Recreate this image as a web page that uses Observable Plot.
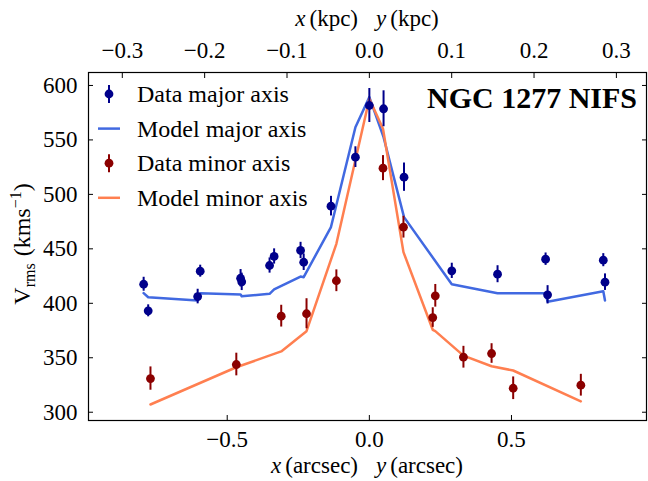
<!DOCTYPE html>
<html><head><meta charset="utf-8">
<script src="https://cdn.jsdelivr.net/npm/d3@7"></script>
<script src="https://cdn.jsdelivr.net/npm/@observablehq/plot@0.6"></script>
<style>
body{margin:0;background:#fff}
#chart{position:relative;width:648px;height:481px}
</style>
</head><body><div id="chart"></div>
<script>
// ---- data (arcsec, km/s) ----
const majorX   = [-0.794,-0.778,-0.604,-0.595,-0.453,-0.449,-0.351,-0.335,-0.242,-0.231,-0.135,-0.049,0.000,0.050,0.122,0.290,0.451,0.620,0.627,0.823,0.829];
const majorV   = [417.5,393.1,406.2,429.5,423.0,419.7,434.7,443.0,448.5,437.7,489.2,534.2,581.6,578.6,515.8,429.8,426.7,440.5,407.8,439.6,419.4];
const majorErr = [6.4,5.5,6.7,5.5,8,8,7,7,7.5,7.6,9,9.5,15.6,16.5,13,7,7.8,5.7,8.4,6,7.6];

const minorX   = [-0.770,-0.468,-0.310,-0.221,-0.116,0.048,0.120,0.223,0.232,0.331,0.430,0.506,0.744];
const minorV   = [330.9,343.8,388.2,390.4,420.7,524.1,469.9,386.9,406.9,350.5,353.9,322.0,324.8];
const minorErr = [10.7,10.4,10,13.8,10,11.5,10,9,10.4,10,9,10.4,10];

const modelMajorX = [-0.794,-0.778,-0.604,-0.595,-0.453,-0.449,-0.351,-0.335,-0.242,-0.231,-0.135,-0.049,0.000,0.050,0.122,0.290,0.451,0.620,0.627,0.823,0.829];
const modelMajorV = [409.3,405.6,402.6,409.3,408.1,406.5,408.7,412.7,424.6,424.0,470.0,561.7,589.3,552.5,479.1,417.5,409.3,409.3,401.4,411.1,402.6];

const modelMinorX = [-0.770,-0.468,-0.310,-0.221,-0.116,0.000,0.048,0.120,0.223,0.232,0.331,0.430,0.506,0.744];
const modelMinorV = [307.1,341.3,355.8,374.4,454.6,587.8,560.2,447.0,375.7,374.5,352.0,342.2,338.3,310.0];

const arcsecTicks = [-0.5, 0.0, 0.5];
const kpcTicks = [-0.3,-0.2,-0.1,0.0,0.1,0.2,0.3];
const vTicks = [300,350,400,450,500,550,600];
const kpcPerArcsec = 0.3452;

const legendLabels = ["Data major axis","Model major axis","Data minor axis","Model minor axis"];
const title = "NGC 1277 NIFS";

// ---- build ----
const cMajorData = "#00008b", cMajorModel = "#4169e1", cMinorData = "#8b0000", cMinorModel = "#ff7f50";
const major = majorX.map((x,i)=>({x, v:majorV[i], e:majorErr[i]}));
const minor = minorX.map((x,i)=>({x, v:minorV[i], e:minorErr[i]}));
const modelMajor = modelMajorX.map((x,i)=>({x, v:modelMajorV[i]}));
const modelMinor = modelMinorX.map((x,i)=>({x, v:modelMinorV[i]}));
const fmt1 = d => (d < -1e-9 ? "\u2212" : "") + Math.abs(d).toFixed(1);

const plot = Plot.plot({
  width: 648, height: 481,
  marginLeft: 88, marginRight: 2, marginTop: 72, marginBottom: 61,
  style: {fontFamily: "'Liberation Serif', 'Times New Roman', serif", fontSize: "23px", color: "#000", background: "#fff"},
  x: {domain: [-0.988, 0.975]},
  y: {domain: [292.4, 611.9]},
  marks: [
    Plot.line(modelMajor, {x: "x", y: "v", stroke: cMajorModel, strokeWidth: 2.5}),
    Plot.line(modelMinor, {x: "x", y: "v", stroke: cMinorModel, strokeWidth: 2.5}),
    Plot.ruleX(major, {x: "x", y1: d => d.v - d.e, y2: d => d.v + d.e, stroke: cMajorData, strokeWidth: 2}),
    Plot.dot(major, {x: "x", y: "v", r: 4.4, fill: cMajorData}),
    Plot.ruleX(minor, {x: "x", y1: d => d.v - d.e, y2: d => d.v + d.e, stroke: cMinorData, strokeWidth: 2}),
    Plot.dot(minor, {x: "x", y: "v", r: 4.4, fill: cMinorData}),
    Plot.axisX(arcsecTicks, {anchor: "bottom", tickSize: -5, tickPadding: 15, tickFormat: fmt1, label: null}),
    Plot.axisX(kpcTicks.map(k => k / kpcPerArcsec), {anchor: "top", tickSize: -5, tickPadding: 20, tickFormat: d => fmt1(Math.round(d * kpcPerArcsec * 10) / 10), label: null}),
    Plot.axisY(vTicks, {anchor: "left", tickSize: -5, tickPadding: 16, label: null}),
    Plot.axisY(vTicks, {anchor: "right", tickSize: -5, tickFormat: () => "", label: null}),
    Plot.frame({stroke: "#000", strokeWidth: 1.2})
  ]
});
document.getElementById("chart").appendChild(plot);

const svg = d3.select(plot);
const fam = "'Liberation Serif', 'Times New Roman', serif";
// title
svg.append("text").attr("x", 637).attr("y", 108).attr("text-anchor", "end")
  .attr("font-family", fam).attr("font-size", 30).attr("font-weight", "bold").attr("fill", "#000").text(title);

// legend
const lg = svg.append("g").attr("font-family", fam).attr("font-size", 24).attr("fill", "#000").attr("text-anchor", "start");
const rows = [
  {type: "data", color: cMajorData}, {type: "line", color: cMajorModel},
  {type: "data", color: cMinorData}, {type: "line", color: cMinorModel}
];
rows.forEach((r, i) => {
  const cy = 94 + i * 34.6;
  if (r.type === "data") {
    lg.append("line").attr("x1", 109).attr("x2", 109).attr("y1", cy - 9).attr("y2", cy + 9).attr("stroke", r.color).attr("stroke-width", 2);
    lg.append("circle").attr("cx", 109).attr("cy", cy).attr("r", 4.4).attr("fill", r.color);
  } else {
    lg.append("line").attr("x1", 98).attr("x2", 120).attr("y1", cy).attr("y2", cy).attr("stroke", r.color).attr("stroke-width", 2.5);
  }
  lg.append("text").attr("x", 137).attr("y", cy + 8).attr("text-anchor", "start").text(legendLabels[i]);
});

// axis labels
function axisLabel(y, unit) {
  const t = svg.append("text").attr("x", 367).attr("y", y).attr("text-anchor", "middle")
    .attr("font-family", fam).attr("font-size", 23).attr("fill", "#000");
  t.append("tspan").attr("font-style", "italic").text("x");
  t.append("tspan").attr("dx", 4).text("(" + unit + ")");
  t.append("tspan").attr("dx", 18).attr("font-style", "italic").text("y");
  t.append("tspan").attr("dx", 4).text("(" + unit + ")");
}
axisLabel(473, "arcsec");
axisLabel(26, "kpc");

// y label
const yl = svg.append("text").attr("transform", "translate(30,244) rotate(-90)").attr("text-anchor", "middle")
  .attr("font-family", fam).attr("font-size", 24).attr("fill", "#000");
yl.append("tspan").text("V");
yl.append("tspan").attr("font-size", 16).attr("dy", 5).text("rms");
yl.append("tspan").attr("dy", -5).attr("dx", 7).text("(kms");
yl.append("tspan").attr("font-size", 16).attr("dy", -9).text("\u22121");
yl.append("tspan").attr("dy", 9).text(")");
</script>
</body></html>
